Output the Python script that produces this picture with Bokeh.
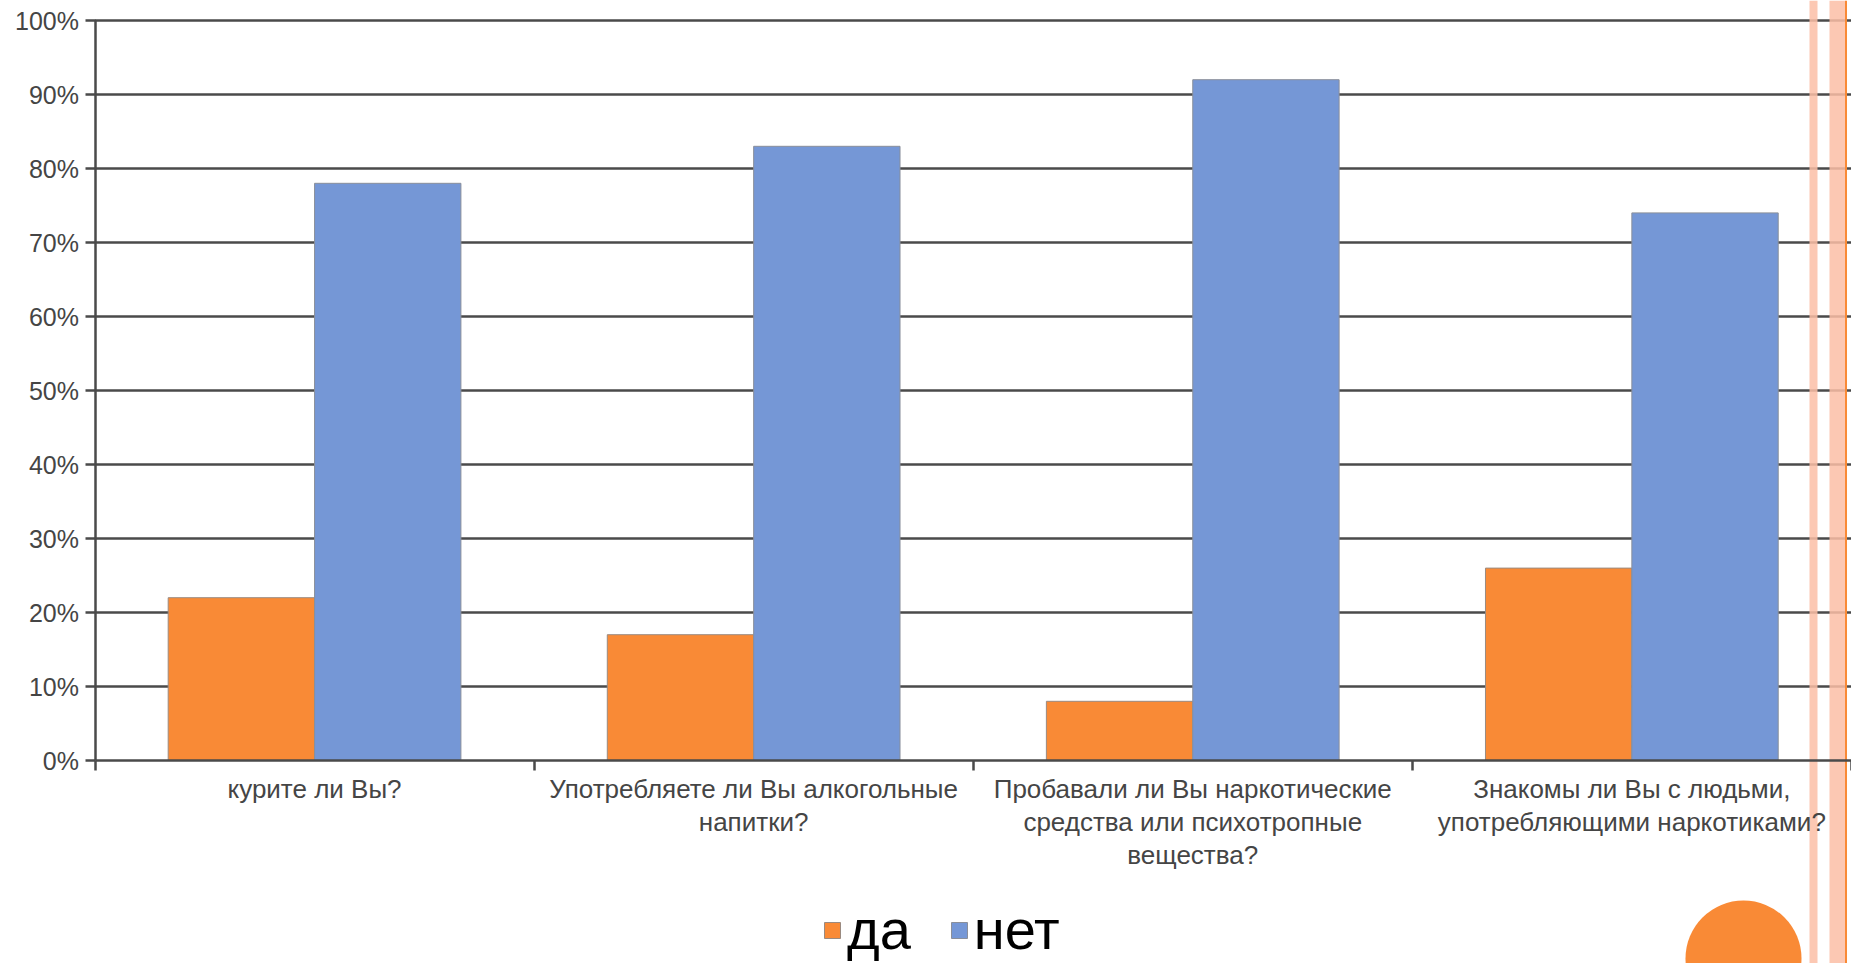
from bokeh.plotting import figure
from bokeh.models import (LinearAxis, FixedTicker, PrintfTickFormatter, Range1d,
                          Legend, LegendItem, ColumnDataSource)
from bokeh.embed import file_html
from bokeh.resources import INLINE

# ---------------- data ----------------
categories = [
    "курите ли Вы?",
    "Употребляете ли Вы алкогольные\nнапитки?",
    "Пробавали ли Вы наркотические\nсредства или психотропные\nвещества?",
    "Знакомы ли Вы с людьми,\nупотребляющими наркотиками?",
]
series_names = ["да", "нет"]
da = [22, 17, 8, 26]
net = [78, 83, 92, 74]
y_ticks = [0, 10, 20, 30, 40, 50, 60, 70, 80, 90, 100]

# ---------------- layout constants (canvas pixels) ----------------
W, H = 1851, 963
X0 = 94.5        # canvas x of the category axis start
CAT_W = 439.1    # width of one category in px
Y0 = 760.0       # canvas y of the 0% line
PX_PER = 7.4     # px per percent

ORANGE = "#F98A36"
BLUE = "#7597D6"
STRIPE = "#FCBEA6"
GRID = "#4a4a4a"
TEXT = "#454545"
FONT = "Liberation Sans"

x_range = Range1d(-X0 / CAT_W, (W - X0) / CAT_W)
y_range = Range1d((Y0 - H) / PX_PER, Y0 / PX_PER)

p = figure(width=W, height=H, x_range=x_range, y_range=y_range,
           x_axis_type=None, y_axis_type=None,
           output_backend="svg", toolbar_location=None,
           min_border=0, min_border_left=0, min_border_right=0,
           min_border_top=0, min_border_bottom=0)
p.outline_line_color = None
p.background_fill_color = "white"
p.border_fill_color = "white"


def px_to_x(px):
    return (px - X0) / CAT_W


def px_to_y(py):
    return (Y0 - py) / PX_PER


# decorative slide stripes on the right
p.quad(left=[px_to_x(1809), px_to_x(1829)], right=[px_to_x(1817), px_to_x(1845)],
       bottom=y_range.start, top=y_range.end,
       fill_color=STRIPE, fill_alpha=0.85, line_color=None)
p.quad(left=[px_to_x(1844.5)], right=[px_to_x(1846.5)],
       bottom=y_range.start, top=y_range.end,
       fill_color=ORANGE, fill_alpha=1.0, line_color=None)

# gridlines from the tick values
p.ray(x=[0] * (len(y_ticks) - 1), y=y_ticks[1:], length=0, angle=0,
      line_color=GRID, line_width=2.5, level="underlay")

# bars
idx = list(range(len(categories)))
src = ColumnDataSource(dict(
    x_da=[i + 0.5 - 1 / 6 for i in idx],
    x_net=[i + 0.5 + 1 / 6 for i in idx],
    da=da, net=net,
))
r_da = p.vbar(x="x_da", top="da", bottom=0, width=1 / 3, source=src,
              fill_color=ORANGE, line_color="#9a8a80", line_width=1)
r_net = p.vbar(x="x_net", top="net", bottom=0, width=1 / 3, source=src,
               fill_color=BLUE, line_color="#8a8f9a", line_width=1)

# decorative orange circle at the bottom right
p.scatter(x=[px_to_x(1743)], y=[px_to_y(958)], size=116,
          marker="circle", fill_color=ORANGE, line_color=None)

# y axis
yaxis = LinearAxis(fixed_location=0, bounds=(0, 100),
                   ticker=FixedTicker(ticks=y_ticks, minor_ticks=[]),
                   formatter=PrintfTickFormatter(format="%d%%"))
yaxis.axis_line_color = GRID
yaxis.axis_line_width = 2.5
yaxis.major_tick_line_color = GRID
yaxis.major_tick_line_width = 2.5
yaxis.major_tick_out = 10
yaxis.major_tick_in = 0
yaxis.minor_tick_line_color = None
yaxis.major_label_standoff = 6
yaxis.major_label_text_font = FONT
yaxis.major_label_text_font_size = "25px"
yaxis.major_label_text_color = TEXT
p.add_layout(yaxis, "left")

# x axis
xaxis = LinearAxis(fixed_location=0, bounds=(0, len(categories)),
                   ticker=FixedTicker(ticks=[i + 0.5 for i in idx],
                                      minor_ticks=list(range(len(categories) + 1))))
xaxis.major_label_overrides = {i + 0.5: c for i, c in zip(idx, categories)}
xaxis.axis_line_color = GRID
xaxis.axis_line_width = 2.5
xaxis.major_tick_line_color = None
xaxis.major_tick_out = 0
xaxis.major_tick_in = 0
xaxis.minor_tick_line_color = GRID
xaxis.minor_tick_line_width = 2.5
xaxis.minor_tick_out = 10
xaxis.minor_tick_in = 0
xaxis.major_label_standoff = 3
xaxis.major_label_text_font = FONT
xaxis.major_label_text_font_size = "26px"
xaxis.major_label_text_line_height = 1.1
xaxis.major_label_text_color = TEXT
p.add_layout(xaxis, "below")

# legend
legend = Legend(items=[LegendItem(label=series_names[0], renderers=[r_da]),
                       LegendItem(label=series_names[1], renderers=[r_net])],
                orientation="horizontal", location=(822, 1),
                padding=0, margin=0, spacing=38, label_standoff=5,
                glyph_width=20, glyph_height=20,
                border_line_color=None, background_fill_alpha=0,
                label_text_font=FONT, label_text_font_size="56px",
                label_text_color="black")
p.add_layout(legend, "center")

open("out.html", "w").write(file_html(p, INLINE))
